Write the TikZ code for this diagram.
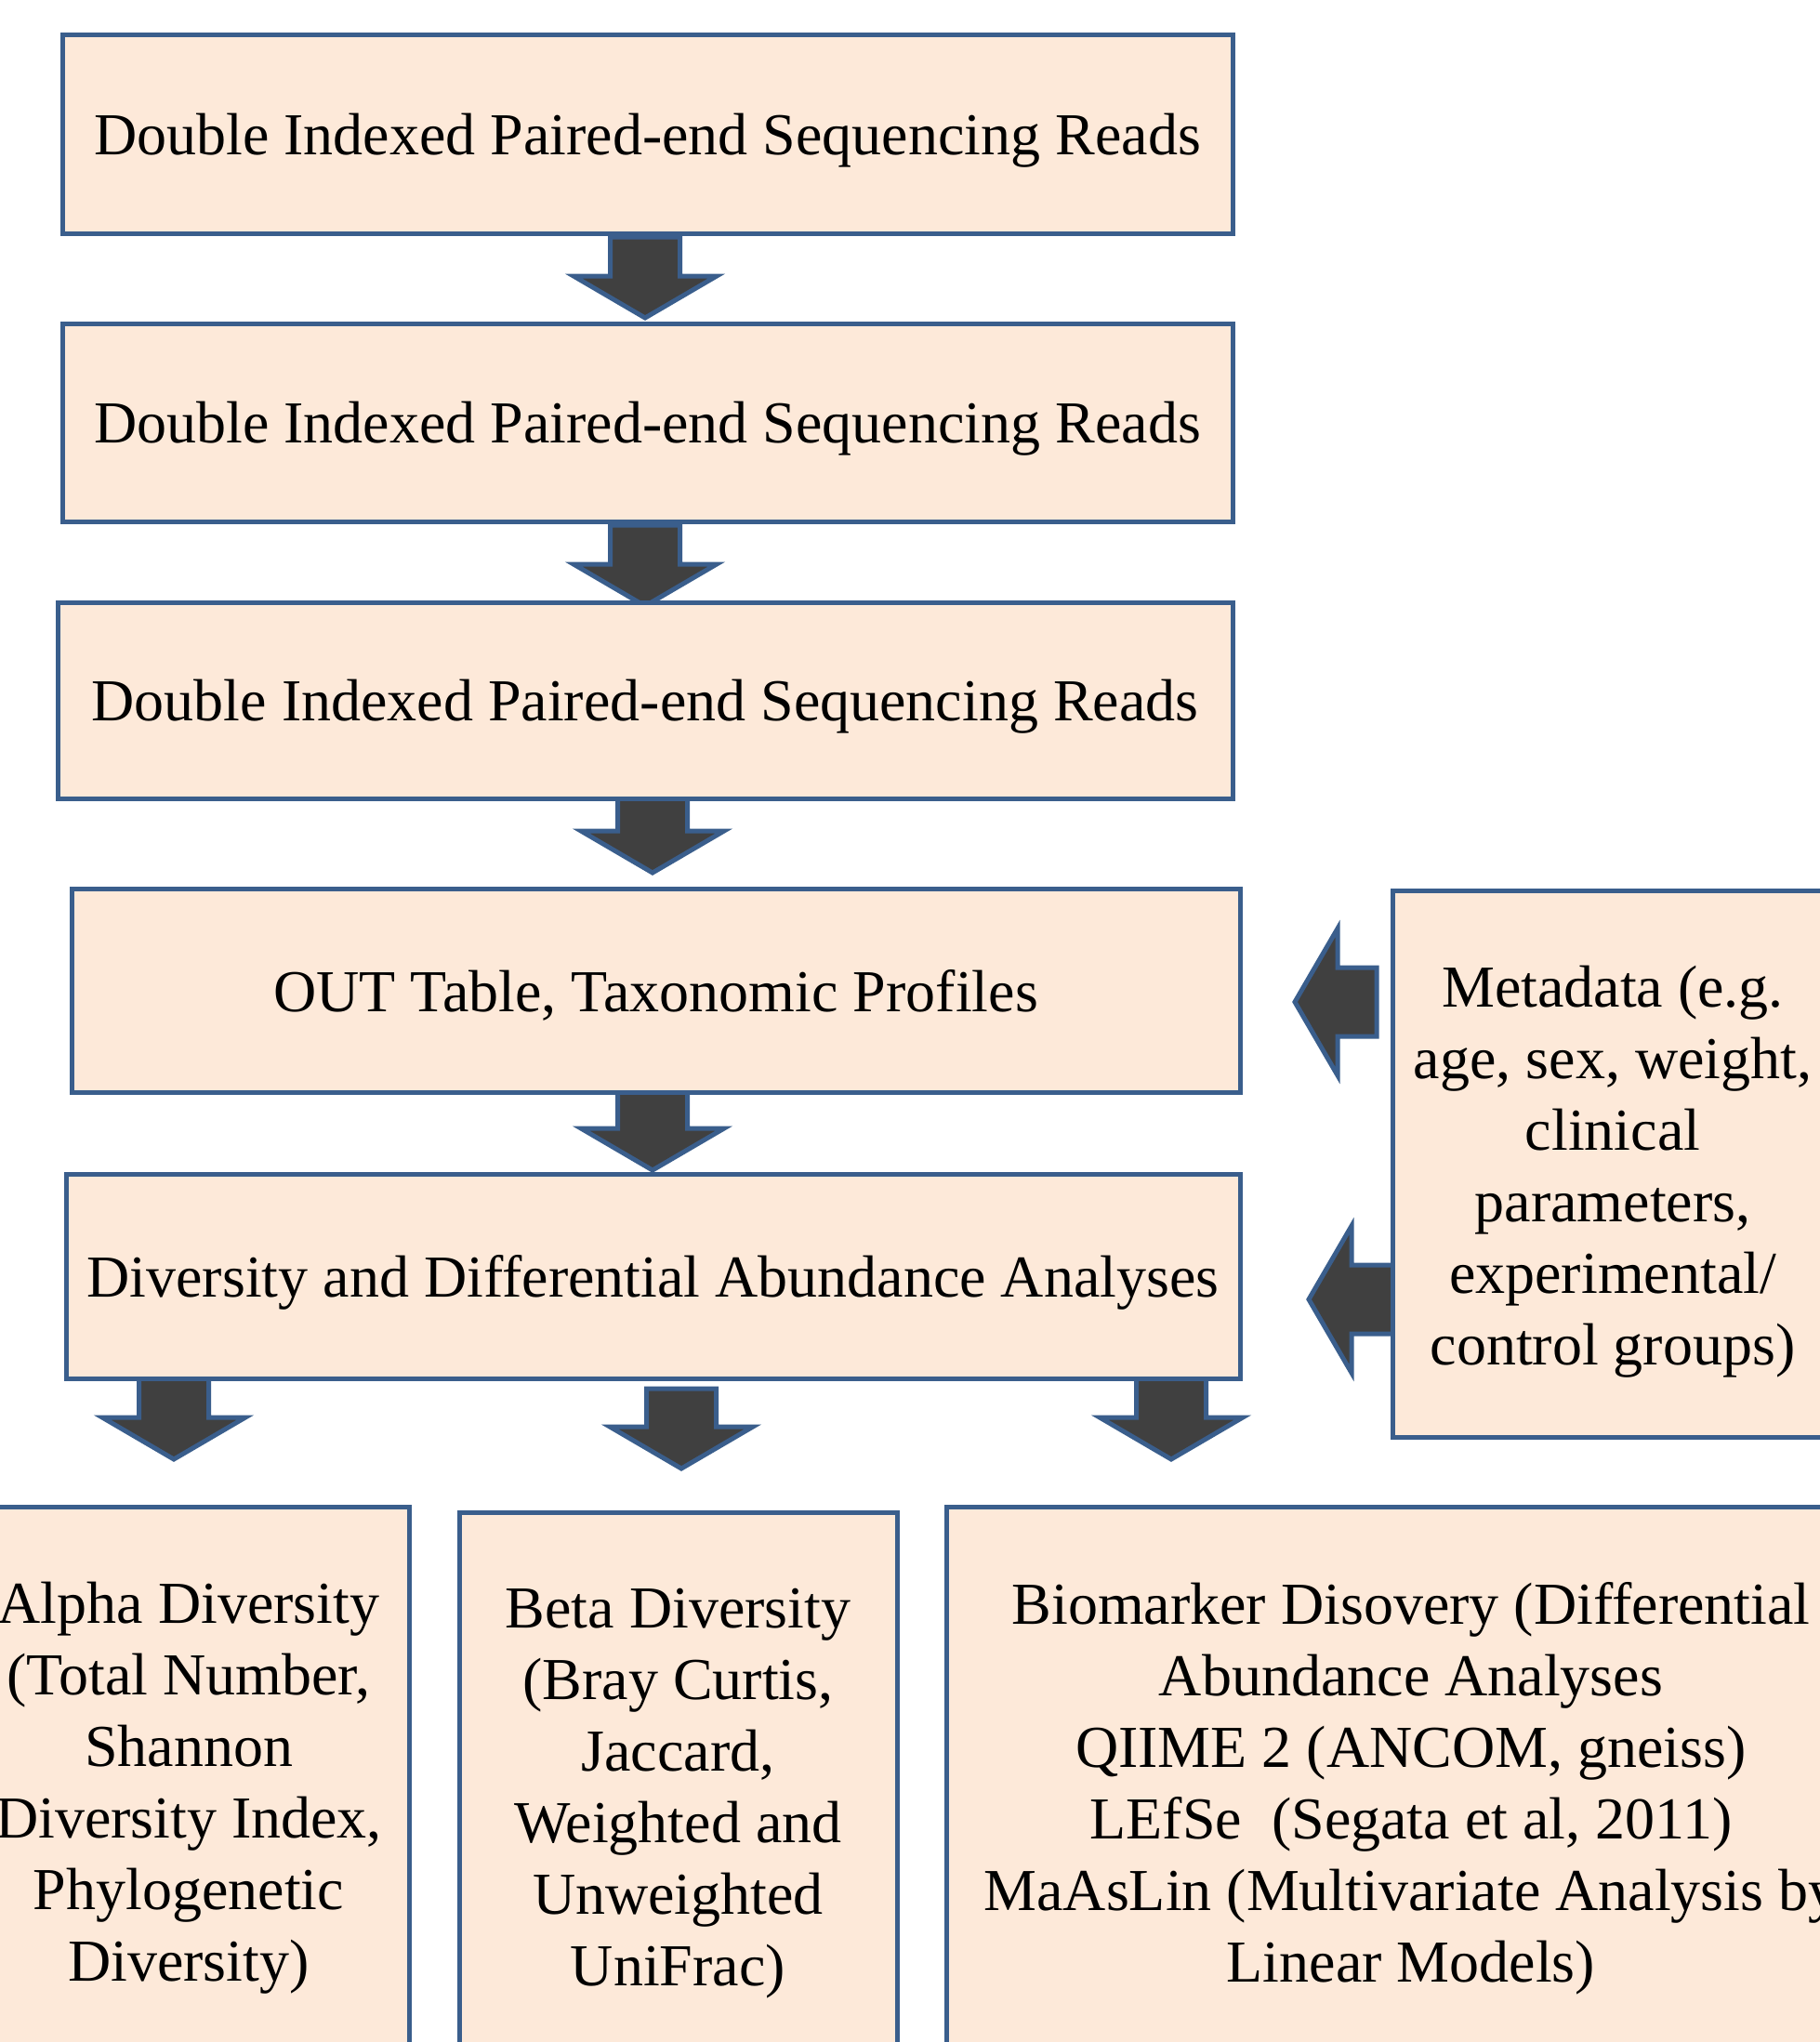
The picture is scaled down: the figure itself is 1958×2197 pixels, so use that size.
\documentclass[tikz,border=0pt]{standalone}
\usepackage{fontspec}
\setmainfont{Liberation Serif}
\definecolor{boxfill}{HTML}{FDE9D9}
\definecolor{boxline}{HTML}{3A5E8C}
\definecolor{arrfill}{HTML}{404040}
\tikzset{
  box/.style={draw=boxline, fill=boxfill, line width=5pt, rectangle, inner sep=0pt,
    outer sep=0pt},
  txt/.style={align=center, inner sep=0pt, font=\fontsize{64}{77}\selectfont},
  blockarrow/.style={draw=boxline, fill=arrfill, line width=5pt, line join=miter},
}
% down block arrow: centre x, top y, tip y
\newcommand{\DArrow}[3]{%
  \draw[blockarrow] ({#1-37.5},{#2}) -- ({#1+37.5},{#2}) -- ({#1+37.5},{#3-45})
    -- ({#1+77},{#3-45}) -- ({#1},{#3}) -- ({#1-77},{#3-45}) -- ({#1-37.5},{#3-45}) -- cycle;}
% left block arrow: centre y, right x, tip x
\newcommand{\LArrow}[3]{%
  \draw[blockarrow] ({#2},{#1-37}) -- ({#3+46},{#1-37}) -- ({#3+46},{#1-79})
    -- ({#3},{#1}) -- ({#3+46},{#1+79}) -- ({#3+46},{#1+37}) -- ({#2},{#1+37}) -- cycle;}
\begin{document}
\begin{tikzpicture}[x=1pt,y=-1pt]
\useasboundingbox (0,0) rectangle (1958,2197);
\fill[white] (0,0) rectangle (1958,2197);
\clip (0,0) rectangle (1958,2197);

% arrows
\DArrow{694}{255}{342}
\DArrow{694}{565}{652}
\DArrow{702}{855}{939}
\DArrow{702}{1175}{1259}
\DArrow{187}{1483}{1570}
\DArrow{733}{1494}{1580}
\DArrow{1260}{1483}{1570}
\LArrow{1078}{1481}{1393}
\LArrow{1398}{1500}{1408}

% boxes
\node[box, minimum width=1259, minimum height=213] (b1) at (696.5,144.5) {};
\node[box, minimum width=1259, minimum height=213] (b2) at (696.5,454.5) {};
\node[box, minimum width=1264, minimum height=211] (b3) at (694,753.5) {};
\node[box, minimum width=1257, minimum height=219] (b4) at (705.5,1065.5) {};
\node[box, minimum width=1263, minimum height=220] (b5) at (702.5,1373) {};
\node[box, minimum width=474, minimum height=588] (meta) at (1735,1252) {};
\node[box, minimum width=474, minimum height=596] (alpha) at (203,1919) {};
\node[box, minimum width=471, minimum height=596] (beta) at (729.5,1925) {};
\node[box, minimum width=1000, minimum height=596] (bio) at (1518,1919) {};

% texts
\node[txt] (t1) at ([yshift=-7pt]b1.center) {Double Indexed Paired-end Sequencing Reads};
\node[txt] (t2) at ([yshift=-7pt]b2.center) {Double Indexed Paired-end Sequencing Reads};
\node[txt] (t3) at ([yshift=-7pt]b3.center) {Double Indexed Paired-end Sequencing Reads};
\node[txt] (t4) at ([yshift=-5pt]b4.center) {OUT Table, Taxonomic Profiles};
\node[txt] (t5) at ([yshift=-7pt]b5.center) {Diversity and Differential Abundance Analyses};
\node[txt] (tm) at ([yshift=-9pt]meta.center)
  {Metadata (e.g.\\age, sex, weight,\\clinical\\parameters,\\experimental/\\control groups)};
\node[txt] (ta) at ([yshift=-5pt]alpha.center)
  {Alpha Diversity\\(Total Number,\\Shannon\\Diversity Index,\\Phylogenetic\\Diversity)};
\node[txt] (tb) at ([yshift=-5pt]beta.center)
  {Beta Diversity\\(Bray Curtis,\\Jaccard,\\Weighted and\\Unweighted\\UniFrac)};
\node[txt] (tbio) at ([yshift=-5pt]bio.center)
  {Biomarker Disovery (Differential\\Abundance Analyses\\QIIME 2 (ANCOM, gneiss)\\LEfSe\ \ (Segata et al, 2011)\\MaAsLin (Multivariate Analysis by\\Linear Models)};
\end{tikzpicture}
\end{document}
